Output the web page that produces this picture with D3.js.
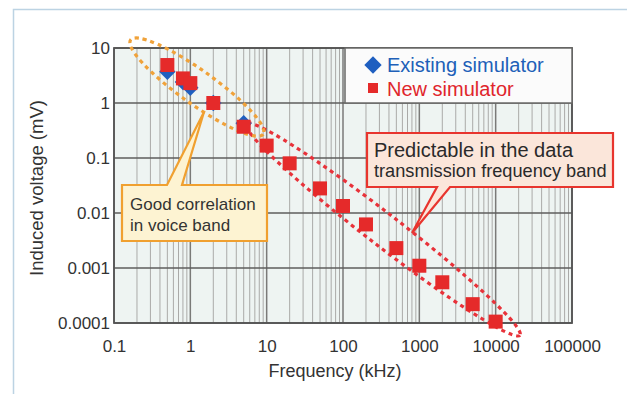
<!DOCTYPE html>
<html><head><meta charset="utf-8">
<script src="https://cdn.jsdelivr.net/npm/d3@7"></script>
<style>body{margin:0;background:#fff}svg{display:block;font-family:"Liberation Sans",Arial,sans-serif}</style>
</head><body><svg id="c" width="627" height="394"></svg>
<script>
// ---- data ----
const freqExisting = [0.5, 0.8, 1, 2, 5];
const existingSim = [3.7, 2.4, 1.9, 1.0, 0.43];
const freqNew = [0.5, 0.8, 1, 2, 5, 10, 20, 50, 100, 200, 500, 1000, 2000, 5000, 10000];
const newSim = [4.9, 2.8, 2.3, 1.0, 0.37, 0.168, 0.08, 0.028, 0.0134, 0.0062, 0.0023, 0.0011, 0.00055, 0.00022, 0.000106];
const xTicks = [0.1, 1, 10, 100, 1000, 10000, 100000];
const xTickLabels = ["0.1", "1", "10", "100", "1000", "10000", "100000"];
const yTicks = [0.0001, 0.001, 0.01, 0.1, 1, 10];
const yTickLabels = ["0.0001", "0.001", "0.01", "0.1", "1", "10"];
const seriesNames = ["Existing simulator", "New simulator"];
// annotation ellipses: end points in data space
const voiceBandF = [0.165, 9.0];
const voiceBandV = [14, 0.27];
const dataBandF = [5.4, 20800];
const dataBandV = [0.42, 0.00006];
const noteVoice = ["Good correlation", "in voice band"];
const noteData = ["Predictable in the data", "transmission frequency band"];

const svg = d3.select("#c");
const L = 114, R = 572, T = 48, B = 323;
const x = d3.scaleLog().domain([0.1, 100000]).range([L, R]);
const y = d3.scaleLog().domain([0.0001, 10]).range([B, T]);

// outer frame
svg.append("path").attr("d", "M13.5,394 V9.5 H627").attr("fill", "none").attr("stroke", "#bcd3e3").attr("stroke-width", 1.5);

// plot background
svg.append("rect").attr("x", L).attr("y", T).attr("width", R - L).attr("height", B - T).attr("fill", "#eef4f2");

// minor vertical grid
const minor = [];
for (let d = 0.1; d < 100000; d *= 10) for (let k = 2; k <= 9; k++) minor.push(d * k);
svg.append("g").selectAll("line").data(minor).join("line")
  .attr("x1", d => x(d)).attr("x2", d => x(d)).attr("y1", T).attr("y2", B)
  .attr("stroke", "#aaaaa8").attr("stroke-width", 1);
svg.append("g").selectAll("line").data(xTicks).join("line")
  .attr("x1", d => x(d)).attr("x2", d => x(d)).attr("y1", T).attr("y2", B)
  .attr("stroke", "#7a7a78").attr("stroke-width", 1.5);
svg.append("g").selectAll("line").data(yTicks).join("line")
  .attr("x1", L).attr("x2", R).attr("y1", d => y(d)).attr("y2", d => y(d))
  .attr("stroke", "#5e5e5c").attr("stroke-width", 1.3);
svg.append("rect").attr("x", L).attr("y", T).attr("width", R - L).attr("height", B - T)
  .attr("fill", "none").attr("stroke", "#555").attr("stroke-width", 1.8);

// axes labels via d3 axes (tick text only)
const xa = svg.append("g").attr("transform", `translate(0,${B})`)
  .call(d3.axisBottom(x).tickValues(xTicks).tickFormat((d, i) => xTickLabels[i]).tickSize(0).tickPadding(17));
xa.select(".domain").remove();
xa.selectAll("text").attr("font-size", 17).attr("fill", "#333").attr("font-family", "Liberation Sans, Arial, sans-serif");
const ya = svg.append("g").attr("transform", `translate(${L},0)`)
  .call(d3.axisLeft(y).tickValues(yTicks).tickFormat((d, i) => yTickLabels[i]).tickSize(0).tickPadding(4));
ya.select(".domain").remove();
ya.selectAll("text").attr("font-size", 17).attr("fill", "#333").attr("font-family", "Liberation Sans, Arial, sans-serif");

svg.append("text").attr("x", 335).attr("y", 377).attr("text-anchor", "middle")
  .attr("font-size", 18).attr("fill", "#333").text("Frequency (kHz)");
svg.append("text").attr("transform", "translate(43,188) rotate(-90)").attr("text-anchor", "middle")
  .attr("font-size", 18.5).attr("fill", "#333").text("Induced voltage (mV)");

// legend box
svg.append("rect").attr("x", 345).attr("y", T).attr("width", R - 345).attr("height", 55)
  .attr("fill", "#fbfbfb").attr("stroke", "#6a6a68").attr("stroke-width", 1.5);
svg.append("path").attr("d", d3.symbol().type(d3.symbolSquare).size(150)())
  .attr("transform", "translate(373,65) rotate(45)").attr("fill", "#1f5fc0");
svg.append("text").attr("x", 387).attr("y", 72).attr("font-size", 20).attr("fill", "#2060b8").text(seriesNames[0]);
svg.append("rect").attr("x", 368).attr("y", 83).attr("width", 10).attr("height", 10).attr("fill", "#e52a2a");
svg.append("text").attr("x", 387).attr("y", 96).attr("font-size", 20).attr("fill", "#e0252b").text(seriesNames[1]);

// ellipses
function ellipse(fArr, vArr, ry, color) {
  const x1 = x(fArr[0]), y1 = y(vArr[0]), x2 = x(fArr[1]), y2 = y(vArr[1]);
  const cx = (x1 + x2) / 2, cy = (y1 + y2) / 2;
  const rx = Math.hypot(x2 - x1, y2 - y1) / 2;
  const ang = Math.atan2(y2 - y1, x2 - x1) * 180 / Math.PI;
  svg.append("ellipse").attr("cx", 0).attr("cy", 0).attr("rx", rx).attr("ry", ry)
    .attr("transform", `translate(${cx},${cy}) rotate(${ang})`)
    .attr("fill", "none").attr("stroke", color).attr("stroke-width", 3.2)
    .attr("stroke-dasharray", "4,4");
}
ellipse(dataBandF, dataBandV, 16, "#e8323a");
ellipse(voiceBandF, voiceBandV, 17, "#f0a23a");

// points
svg.append("g").selectAll("path").data(freqExisting).join("path")
  .attr("d", d3.symbol().type(d3.symbolSquare).size(135)())
  .attr("transform", (d, i) => `translate(${x(d)},${y(existingSim[i])}) rotate(45)`)
  .attr("fill", "#1f5fc0");
svg.append("g").selectAll("rect").data(freqNew).join("rect")
  .attr("x", d => x(d) - 7).attr("y", (d, i) => y(newSim[i]) - 7)
  .attr("width", 14).attr("height", 14).attr("fill", "#e52a2a");

// callout: voice band
svg.append("path").attr("d", "M122,185 H167 L204,112 L182,185 H267 V241 H122 Z")
  .attr("fill", "#fdf3d2").attr("stroke", "#f0a030").attr("stroke-width", 2.2).attr("stroke-linejoin", "miter");
svg.append("text").attr("x", 130).attr("y", 210).attr("font-size", 17).attr("fill", "#333").text(noteVoice[0]);
svg.append("text").attr("x", 130).attr("y", 231).attr("font-size", 17).attr("fill", "#333").text(noteVoice[1]);

// callout: data band
svg.append("path").attr("d", "M367,133 H613 V187 H450 L412,233 L437,187 H367 Z")
  .attr("fill", "#fbe6da").attr("stroke", "#e8352e").attr("stroke-width", 2.2);
svg.append("text").attr("x", 374).attr("y", 157).attr("font-size", 20).attr("fill", "#2a2a2a").text(noteData[0]);
svg.append("text").attr("x", 374).attr("y", 177).attr("font-size", 18.2).attr("fill", "#2a2a2a").text(noteData[1]);
</script></body></html>
